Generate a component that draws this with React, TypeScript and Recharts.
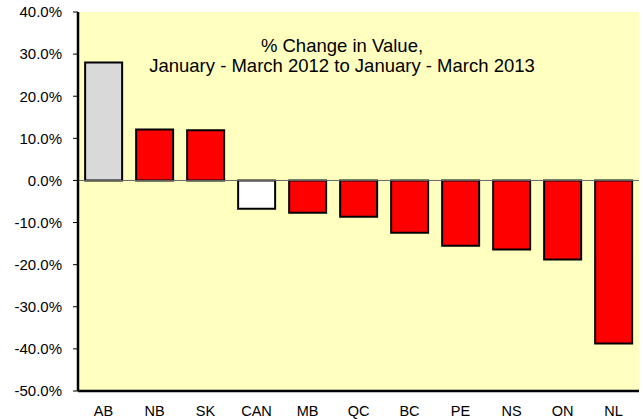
import React from "react";
import { BarChart, Bar, XAxis, YAxis, Cell, ReferenceLine, CartesianGrid, Customized } from "recharts";

const categories = ["AB", "NB", "SK", "CAN", "MB", "QC", "BC", "PE", "NS", "ON", "NL"];
const changes = [28.0, 12.1, 11.9, -6.7, -7.7, -8.6, -12.4, -15.5, -16.4, -18.8, -38.7];
const barColors = ["#D9D9D9", "#FF0000", "#FF0000", "#FFFFFF", "#FF0000", "#FF0000", "#FF0000", "#FF0000", "#FF0000", "#FF0000", "#FF0000"];
const yTicks = [-50, -40, -30, -20, -10, 0, 10, 20, 30, 40];
const titleLines = ["% Change in Value,", "January - March 2012 to January - March 2013"];

const data = categories.map((c, i) => ({ name: c, value: changes[i] }));
const FONT = "'Liberation Sans', Arial, sans-serif";

const Title = () => (
  <g>
    <text x={342} y={52} textAnchor="middle" fontFamily={FONT} fontSize={18.5} fill="#000">{titleLines[0]}</text>
    <text x={342} y={72} textAnchor="middle" fontFamily={FONT} fontSize={18.5} fill="#000">{titleLines[1]}</text>
  </g>
);

export default function App() {
  return (
    <div style={{ position: "absolute", left: 0, top: 0 }}>
      <BarChart width={643} height={420} data={data} margin={{ top: 12, right: 4, bottom: 0, left: 0 }} barCategoryGap="14%">
        <CartesianGrid fill="#FFFFC0" stroke="none" horizontal={false} vertical={false} />
        <XAxis dataKey="name" height={29} tickLine={false} tickSize={0} tickMargin={15}
          axisLine={{ stroke: "#000", strokeWidth: 2.5 }}
          tick={{ fontFamily: FONT, fontSize: 14.5, fill: "#000" }} interval={0} />
        <XAxis xAxisId="top" orientation="top" dataKey="name" height={0} tick={false} tickLine={false}
          axisLine={{ stroke: "#000", strokeWidth: 2 }} />
        <YAxis domain={[-50, 40]} ticks={yTicks} width={78} interval={0} tickSize={5} tickMargin={11}
          tickFormatter={(v: number) => v.toFixed(1) + "%"}
          axisLine={{ stroke: "#000", strokeWidth: 2.5 }} tickLine={{ stroke: "#000" }}
          tick={{ fontFamily: FONT, fontSize: 15, fill: "#000" }} allowDataOverflow />
        <YAxis yAxisId="right" orientation="right" domain={[-50, 40]} width={0} tick={false} tickLine={false}
          axisLine={{ stroke: "#000", strokeWidth: 2 }} />
        <ReferenceLine y={0} stroke="#666" strokeWidth={1} />
        <Bar dataKey="value" isAnimationActive={false} stroke="#000" strokeWidth={2}>
          {data.map((d, i) => (
            <Cell key={d.name} fill={barColors[i]} />
          ))}
        </Bar>
        <Customized component={Title} />
      </BarChart>
    </div>
  );
}
